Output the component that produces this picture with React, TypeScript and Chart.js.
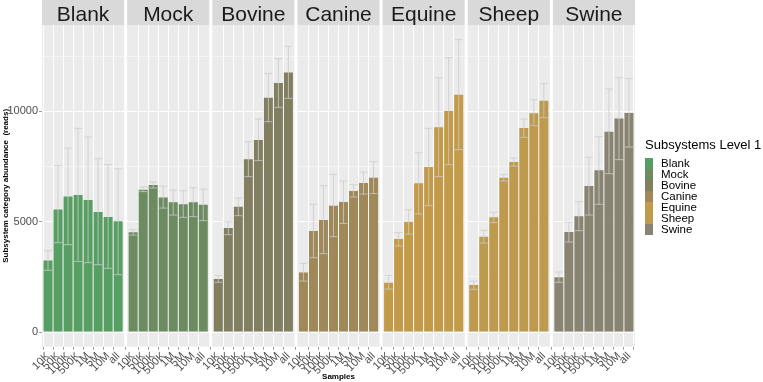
import React, { useEffect, useRef } from 'react';
import { Chart, registerables } from 'chart.js';

Chart.register(...registerables);

// ---- data ----
const categories = ['10K', '50K', '100K', '500K', '1M', '5M', '10M', 'all'];
const groupNames = ['Blank', 'Mock', 'Bovine', 'Canine', 'Equine', 'Sheep', 'Swine'];
const groupColors = ['#579E63', '#6C8B60', '#827E60', '#A08858', '#C39A48', '#BD9A4D', '#888471'];

const blankMean = [3240, 5560, 6150, 6210, 5985, 5440, 5215, 5020];
const blankLow = [2800, 4050, 3960, 3205, 3145, 3055, 2890, 2600];
const blankHigh = [3690, 7545, 8340, 9235, 8840, 7860, 7590, 7405];

const mockMean = [4520, 6455, 6665, 6105, 5880, 5790, 5880, 5775];
const mockLow = [4395, 6365, 6530, 5620, 5305, 5200, 5230, 5050];
const mockHigh = [4640, 6575, 6800, 6620, 6435, 6410, 6545, 6480];

const bovineMean = [2405, 4715, 5685, 7830, 8705, 10625, 11285, 11770];
const bovineLow = [2255, 4415, 5275, 7045, 7770, 9535, 10185, 10595];
const bovineHigh = [2555, 5005, 6075, 8630, 9655, 11725, 12395, 12950];

const canineMean = [2705, 4580, 5075, 5730, 5895, 6390, 6755, 7000];
const canineLow = [2310, 3375, 3555, 4325, 4925, 6120, 6255, 6275];
const canineHigh = [3115, 5790, 6635, 7150, 6845, 6680, 7255, 7725];

const equineMean = [2240, 4215, 5005, 6740, 7480, 9280, 10020, 10760];
const equineLow = [1950, 3900, 4440, 5350, 5730, 7045, 7590, 8270];
const equineHigh = [2555, 4505, 5550, 8130, 9235, 11530, 12440, 13255];

const sheepMean = [2130, 4325, 5200, 7000, 7705, 9250, 9915, 10490];
const sheepLow = [1935, 4035, 4960, 6845, 7525, 8825, 9355, 9720];
const sheepHigh = [2310, 4610, 5425, 7135, 7890, 9655, 10535, 11260];

const swineMean = [2480, 4535, 5245, 6620, 7330, 9085, 9675, 9925];
const swineLow = [2255, 4080, 4595, 5305, 5790, 7180, 7815, 8385];
const swineHigh = [2720, 4975, 5910, 7920, 8855, 11015, 11530, 11485];

const yTickValues = [0, 2500, 5000, 7500, 10000, 12500];
const yTickLabels = ['0', '', '5000', '', '10000', ''];

const yTitle = 'Subsystem category abundance  (reads)';
const xTitle = 'Samples';
const legendTitle = 'Subsystems Level 1';

const means = [blankMean, mockMean, bovineMean, canineMean, equineMean, sheepMean, swineMean];
const lows = [blankLow, mockLow, bovineLow, canineLow, equineLow, sheepLow, swineLow];
const highs = [blankHigh, mockHigh, bovineHigh, canineHigh, equineHigh, sheepHigh, swineHigh];

// facet geometry in x units (ggplot discrete expansion 0.6, small panel gap)
const PANEL_UNITS = 8.2;
const PANEL_STEP = 8.5;
const BAR_OFFSET = 0.6;
const X_MAX = PANEL_STEP * (groupNames.length - 1) + PANEL_UNITS;

const FONT = '"Liberation Sans", Arial, Helvetica, sans-serif';

const xOf = (p: number, j: number) => p * PANEL_STEP + BAR_OFFSET + j;

const tickPositions: number[] = [];
groupNames.forEach((_, p) => categories.forEach((__, j) => tickPositions.push(xOf(p, j))));

const allHigh = Math.max(...highs.flat());
const allLow = Math.min(0, ...lows.flat());
const yRange = allHigh - allLow;
const Y_MIN = allLow - yRange * 0.05;
const Y_MAX = allHigh + yRange * 0.05;

const facetPlugin = {
  id: 'facets',
  beforeDraw(chart: any) {
    const { ctx, chartArea, scales } = chart;
    const x = scales.x;
    ctx.save();
    groupNames.forEach((name, p) => {
      const l = x.getPixelForValue(p * PANEL_STEP);
      const r = x.getPixelForValue(p * PANEL_STEP + PANEL_UNITS);
      ctx.fillStyle = '#EBEBEB';
      ctx.fillRect(l, chartArea.top, r - l, chartArea.bottom - chartArea.top);
      ctx.fillStyle = '#D9D9D9';
      ctx.fillRect(l, 0, r - l, chartArea.top);
      ctx.fillStyle = '#1A1A1A';
      ctx.font = `21px ${FONT}`;
      ctx.textAlign = 'center';
      ctx.textBaseline = 'alphabetic';
      ctx.fillText(name, (l + r) / 2, 20.5);
    });
    ctx.restore();
  },
  afterDatasetsDraw(chart: any) {
    const { ctx, scales } = chart;
    const x = scales.x;
    const y = scales.y;
    ctx.save();
    ctx.strokeStyle = '#CCCCCC';
    ctx.lineWidth = 0.8;
    groupNames.forEach((_, p) => {
      categories.forEach((__, j) => {
        const xv = xOf(p, j);
        const px = x.getPixelForValue(xv);
        const half = x.getPixelForValue(xv + 0.4) - px;
        const yl = y.getPixelForValue(lows[p][j]);
        const yh = y.getPixelForValue(highs[p][j]);
        ctx.beginPath();
        ctx.moveTo(px, yl);
        ctx.lineTo(px, yh);
        ctx.moveTo(px - half, yh);
        ctx.lineTo(px + half, yh);
        ctx.moveTo(px - half, yl);
        ctx.lineTo(px + half, yl);
        ctx.stroke();
      });
    });
    ctx.restore();
  },
};

export default function App() {
  const canvasRef = useRef<HTMLCanvasElement | null>(null);

  useEffect(() => {
    if (!canvasRef.current) return;
    const datasets = groupNames.map((name, p) => ({
      label: name,
      data: means[p].map((v, j) => ({ x: xOf(p, j), y: v })),
      backgroundColor: groupColors[p],
      borderWidth: 0,
      grouped: false,
      categoryPercentage: 1,
      barPercentage: 0.9,
    }));

    const chart = new Chart(canvasRef.current, {
      type: 'bar',
      data: { datasets } as any,
      plugins: [facetPlugin],
      options: {
        responsive: false,
        animation: false,
        devicePixelRatio: 1,
        layout: { padding: { top: 25, right: 128, left: 0, bottom: 0 } },
        plugins: { legend: { display: false }, tooltip: { enabled: false } },
        scales: {
          x: {
            type: 'linear',
            min: 0,
            max: X_MAX,
            offset: false,
            afterBuildTicks: (s: any) => {
              s.ticks = tickPositions.map((v) => ({ value: v }));
            },
            afterFit: (s: any) => {
              s.height = 35.3;
            },
            grid: {
              color: '#FFFFFF',
              lineWidth: 1,
              drawTicks: true,
              tickLength: 3,
              tickColor: '#9A9A9A',
              tickWidth: 1,
            },
            border: { display: false },
            ticks: {
              autoSkip: false,
              maxRotation: 45,
              minRotation: 45,
              padding: 0,
              color: '#4D4D4D',
              font: { family: FONT, size: 11 },
              callback: (_v: any, i: number) => categories[i % categories.length],
            },
            title: {
              display: true,
              text: xTitle,
              color: '#000000',
              font: { family: FONT, size: 8, weight: 'bold' },
              padding: { top: 0, bottom: 0 },
            },
          },
          y: {
            min: Y_MIN,
            max: Y_MAX,
            afterBuildTicks: (s: any) => {
              s.ticks = yTickValues.map((v) => ({ value: v }));
            },
            afterFit: (s: any) => {
              s.width = 42;
            },
            grid: {
              color: '#FFFFFF',
              lineWidth: (c: any) => (c.tick && c.tick.value % 5000 === 0 ? 1 : 0.5),
              drawTicks: true,
              tickLength: 3,
              tickWidth: 1,
              tickColor: (c: any) => (c.tick && c.tick.value % 5000 === 0 ? '#9A9A9A' : 'rgba(0,0,0,0)'),
            },
            border: { display: false },
            ticks: {
              padding: 1,
              color: '#4D4D4D',
              font: { family: FONT, size: 11 },
              callback: (_v: any, i: number) => yTickLabels[i],
            },
            title: {
              display: true,
              text: yTitle,
              color: '#000000',
              font: { family: FONT, size: 8, weight: 'bold' },
              padding: { top: 1, bottom: 0 },
            },
          },
        },
      } as any,
    });
    return () => chart.destroy();
  }, []);

  return (
    <div style={{ position: 'absolute', left: 0, top: 0, width: 763, height: 382, background: '#FFFFFF', overflow: 'hidden' }}>
      <canvas ref={canvasRef} width={763} height={382} style={{ position: 'absolute', left: 0, top: 0, width: 763, height: 382 }} />
      <div
        style={{
          position: 'absolute',
          left: 645,
          top: 138,
          font: `13px ${FONT}`,
          lineHeight: '14px',
          color: '#000000',
          whiteSpace: 'nowrap',
        }}
      >
        {legendTitle}
      </div>
      {groupNames.map((name, i) => (
        <React.Fragment key={name}>
          <div
            style={{
              position: 'absolute',
              left: 645,
              top: 158.3 + i * 11,
              width: 8,
              height: 10.5,
              background: groupColors[i],
            }}
          />
          <div
            style={{
              position: 'absolute',
              left: 661,
              top: 158 + i * 11,
              font: `11.5px ${FONT}`,
              lineHeight: '11px',
              color: '#000000',
              whiteSpace: 'nowrap',
            }}
          >
            {name}
          </div>
        </React.Fragment>
      ))}
    </div>
  );
}
